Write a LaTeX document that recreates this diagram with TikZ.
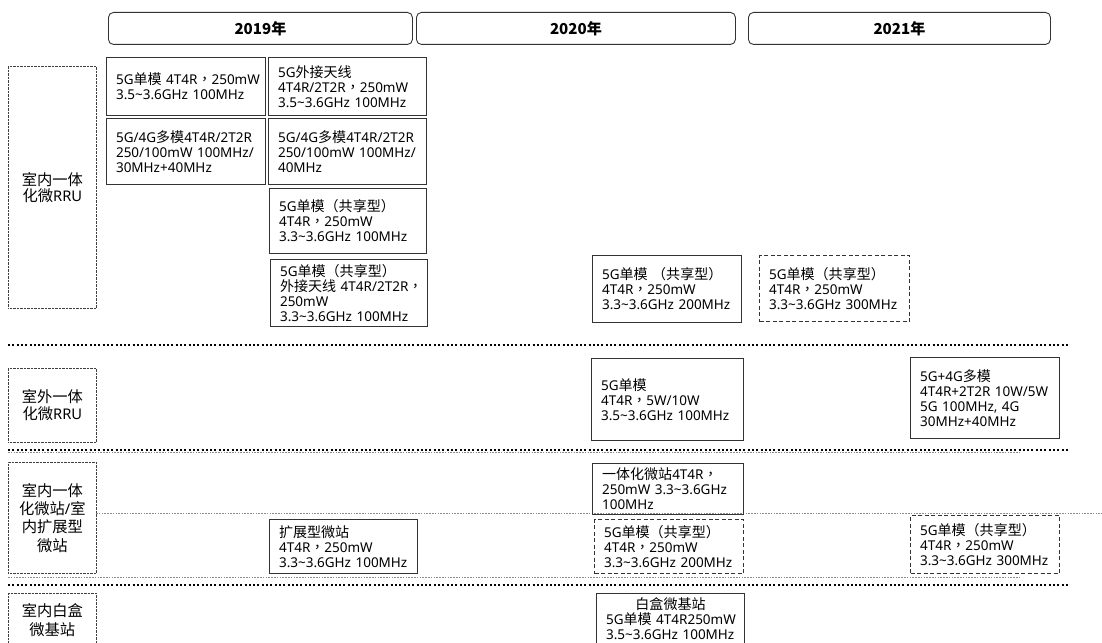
\documentclass[tikz,border=0pt]{standalone}
\usepackage{fontspec}
\setmainfont{Noto Sans}
\newfontfamily\cjk[Scale=1.04]{Noto Sans CJK SC}
\newfontfamily\cjktc[Scale=1.04]{Noto Sans CJK TC}
\newcommand\ZH[1]{{\cjk #1}}
\newcommand\CM{{\cjktc ，}}
\newcommand\TL{\textasciitilde}
\definecolor{edge}{HTML}{333333}
\tikzset{
  box/.style={draw=edge, line width=1.1pt, anchor=north west, inner xsep=9.5pt, inner ysep=0pt,
    align=left, font=\fontsize{13.5}{15}\selectfont},
  dbox/.style={box, dash pattern=on 4pt off 2.5pt},
  lab/.style={draw=black!75, line width=0.7pt, dash pattern=on 0.8pt off 0.6pt, anchor=north west,
    minimum width=88pt, inner sep=0pt, align=center, font=\fontsize{14.7}{17}\selectfont},
  yr/.style={draw=black!80, line width=0.9pt, rounded corners=5pt, anchor=north west,
    minimum height=32pt, inner sep=0pt, font=\cjk\fontsize{14.5}{16}\selectfont\bfseries},
  sep/.style={line width=2pt, dash pattern=on 2pt off 2.3pt},
  fine/.style={draw=black!45, line width=0.7pt, dash pattern=on 1.6pt off 1.2pt}
}
\begin{document}
\begin{tikzpicture}[x=1pt,y=-1pt]
\useasboundingbox (0,0) rectangle (1102,642);
% year headers
\node[yr, minimum width=304pt] (y19) at (108,12) {2019年};
\node[yr, minimum width=319pt] (y20) at (416,12) {2020年};
\node[yr, minimum width=302pt] (y21) at (748,12) {2021年};
% separator lines
\draw[fine] (96,513) -- (1102,513);
\draw[fine] (8,577) -- (1020,577);
\draw[fine] (8,452) -- (1020,452);
\draw[sep] (8,345) -- (1068,345);
\draw[sep] (8,450) -- (1068,450);
\draw[sep] (8,585) -- (1068,585);
% row labels
\node[lab, minimum height=242pt, font=\fontsize{14.7}{16}\selectfont] (r1) at (8,66) {\ZH{室内一体}\\\ZH{化微}RRU};
\node[lab, minimum height=74pt] (r2) at (8,368) {\ZH{室外一体}\\\ZH{化微}RRU};
\node[lab, minimum height=111pt, font=\fontsize{14.7}{18.3}\selectfont] (r3) at (8,462) {\ZH{室内一体}\\\ZH{化微站}/\ZH{室}\\\ZH{内扩展型}\\\ZH{微站}};
\node[lab, minimum height=54pt, font=\fontsize{14.7}{19}\selectfont] (r4) at (8,593) {\ZH{室内白盒}\\\ZH{微基站}};
% row 1
\node[box, text width=140pt, minimum height=58pt] (a) at (106,57)
  {5G\ZH{单模}~4T4R\CM250mW\\3.5\TL3.6GHz~100MHz};
\node[box, text width=139pt, minimum height=58pt] (b) at (268,57)
  {5G\ZH{外接天线}\\4T4R/2T2R\CM250mW\\3.5\TL3.6GHz~100MHz};
\node[box, text width=140pt, minimum height=66pt] (c) at (106,118)
  {5G/4G\ZH{多模}4T4R/2T2R\\250/100mW~100MHz/\\30MHz+40MHz};
\node[box, text width=139pt, minimum height=66pt] (d) at (268,118)
  {5G/4G\ZH{多模}4T4R/2T2R\\250/100mW~100MHz/\\40MHz};
\node[box, text width=138pt, minimum height=65pt] (e) at (269,188)
  {5G\ZH{单模（共享型）}\\4T4R\CM250mW\\3.3\TL3.6GHz~100MHz};
\node[box, text width=138pt, minimum height=67pt] (f) at (270,259)
  {5G\ZH{单模（共享型）}\\\ZH{外接天线}~4T4R/2T2R\CM\\250mW\\3.3\TL3.6GHz~100MHz};
\node[box, text width=130pt, minimum height=67pt] (g) at (592,255)
  {5G\ZH{单模}~\ZH{（共享型）}\\4T4R\CM250mW\\3.3\TL3.6GHz~200MHz};
\node[dbox, text width=131pt, minimum height=66pt] (h) at (759,255)
  {5G\ZH{单模（共享型）}\\4T4R\CM250mW\\3.3\TL3.6GHz~300MHz};
% row 2
\node[box, text width=133pt, minimum height=82pt] (i) at (591,358)
  {5G\ZH{单模}\\4T4R\CM5W/10W\\3.5\TL3.6GHz~100MHz};
\node[box, text width=130pt, minimum height=81pt] (j) at (910,357)
  {5G+4G\ZH{多模}\\4T4R+2T2R~10W/5W\\5G~100MHz,~4G\\30MHz+40MHz};
% row 3
\node[box, text width=132pt, minimum height=51pt] (k) at (592,463)
  {\ZH{一体化微站}4T4R\CM\\250mW~3.3\TL3.6GHz\\100MHz};
\node[dbox, text width=130pt, minimum height=54pt] (l) at (594,519)
  {5G\ZH{单模（共享型）}\\4T4R\CM250mW\\3.3\TL3.6GHz~200MHz};
\node[dbox, text width=130pt, minimum height=58pt] (m) at (910,515)
  {5G\ZH{单模（共享型）}\\4T4R\CM250mW\\3.3\TL3.6GHz~300MHz};
\node[box, text width=129pt, minimum height=54pt] (n) at (269,519)
  {\ZH{扩展型微站}\\4T4R\CM250mW\\3.3\TL3.6GHz~100MHz};
% row 4
\node[box, text width=129pt, minimum height=51pt] (o) at (596,593)
  {\makebox[\linewidth][c]{\ZH{白盒微基站}}\\5G\ZH{单模}~4T4R250mW\\3.5\TL3.6GHz~100MHz};
\end{tikzpicture}
\end{document}
